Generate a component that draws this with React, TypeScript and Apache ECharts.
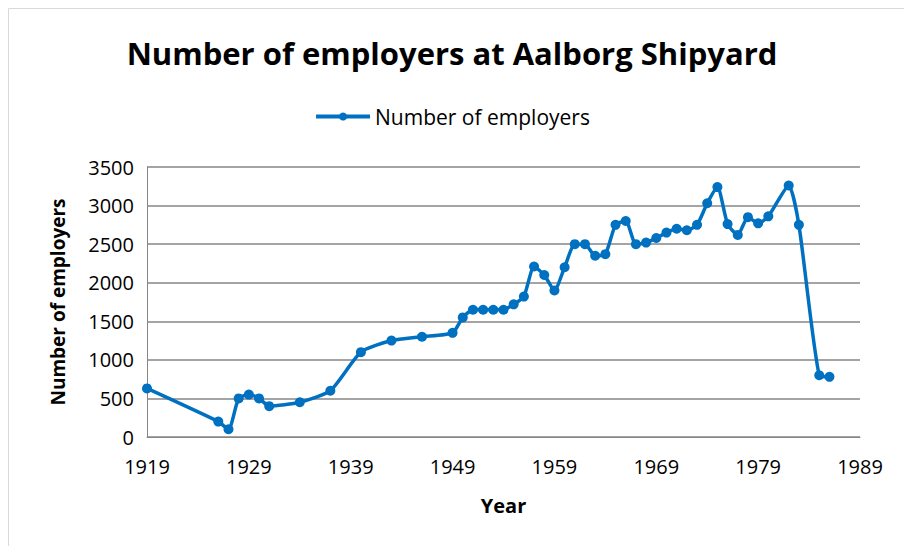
import React, { useEffect, useRef } from "react";
import * as echarts from "echarts";

const years = [1919, 1926, 1927, 1928, 1929, 1930, 1931, 1934, 1937, 1940, 1943, 1946, 1949, 1950, 1951, 1952, 1953, 1954, 1955, 1956, 1957, 1958, 1959, 1960, 1961, 1962, 1963, 1964, 1965, 1966, 1967, 1968, 1969, 1970, 1971, 1972, 1973, 1974, 1975, 1976, 1977, 1978, 1979, 1980, 1982, 1983, 1985, 1986];
const employers = [630, 200, 100, 500, 550, 500, 400, 450, 600, 1100, 1250, 1300, 1350, 1550, 1650, 1650, 1650, 1650, 1720, 1820, 2210, 2100, 1900, 2200, 2500, 2500, 2350, 2370, 2750, 2800, 2500, 2520, 2580, 2650, 2700, 2680, 2750, 3030, 3240, 2760, 2620, 2850, 2770, 2860, 3260, 2750, 800, 780];

const titleText = "Number of employers at Aalborg Shipyard";
const seriesName = "Number of employers";
const xName = "Year";
const yName = "Number of employers";

export default function App() {
  const ref = useRef<HTMLDivElement>(null);
  useEffect(() => {
    if (!ref.current) return;
    const chart = echarts.init(ref.current, null, { renderer: "svg" });
    const font = "Open Sans, sans-serif";
    chart.setOption({
      animation: false,
      backgroundColor: "#ffffff",
      title: {
        text: titleText,
        left: "center",
        top: 32,
        textStyle: { fontFamily: font, fontSize: 31, fontWeight: "bold", color: "#000" },
      },
      legend: {
        top: 101,
        left: "center",
        itemWidth: 54,
        itemHeight: 10,
        itemGap: 6,
        lineStyle: { width: 4 },
        textStyle: { fontFamily: font, fontSize: 21, color: "#000" },
        data: [seriesName],
      },
      graphic: [
        {
          type: "rect",
          shape: { x: 8.5, y: 8.5, width: 910, height: 560 },
          style: { fill: "none", stroke: "#d9d9d9", lineWidth: 1 },
          silent: true,
        },
      ],
      grid: { left: 147, right: 44, top: 167, bottom: 109, containLabel: false },
      xAxis: {
        type: "value",
        min: 1919,
        max: 1989,
        interval: 10,
        name: xName,
        nameLocation: "middle",
        nameGap: 58,
        nameTextStyle: { fontFamily: font, fontSize: 20, fontWeight: "bold", color: "#000" },
        axisLine: { show: true, lineStyle: { color: "#868686", width: 1 } },
        axisTick: { show: false },
        splitLine: { show: false },
        axisLabel: { fontFamily: font, fontSize: 20, color: "#000", margin: 19, formatter: (v: number) => String(v) },
      },
      yAxis: {
        type: "value",
        min: 0,
        max: 3500,
        interval: 500,
        name: yName,
        nameLocation: "middle",
        nameGap: 80,
        nameRotate: 90,
        nameTextStyle: { fontFamily: font, fontSize: 19, fontWeight: "bold", color: "#000" },
        axisLine: { show: true, lineStyle: { color: "#868686", width: 1 } },
        axisTick: { show: false },
        splitLine: { show: true, lineStyle: { color: "#868686", width: 1.5 } },
        axisLabel: { fontFamily: font, fontSize: 20, color: "#000", margin: 13, formatter: (v: number) => String(v) },
      },
      series: [
        {
          name: seriesName,
          type: "line",
          data: years.map((y, i) => [y, employers[i]]),
          smooth: 0.2,
          symbol: "circle",
          symbolSize: 10,
          lineStyle: { color: "#0070C0", width: 3.5 },
          itemStyle: { color: "#0070C0" },
        },
      ],
    });
    return () => chart.dispose();
  }, []);
  return <div ref={ref} style={{ width: 904, height: 546, position: "absolute", left: 0, top: 0 }} />;
}
